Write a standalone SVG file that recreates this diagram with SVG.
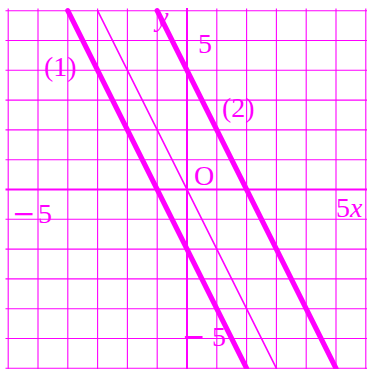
<svg xmlns="http://www.w3.org/2000/svg" width="367" height="369" viewBox="0 0 367 369">
<style>
.grid line{stroke:#FF00FF;stroke-width:1.1}
.axis{stroke:#FF00FF;stroke-width:2}
.thick{stroke:#FF00FF;stroke-width:5.2;stroke-linecap:round;fill:none}
.thin{stroke:#FF00FF;stroke-width:1.6;stroke-linecap:round;fill:none}
text{font-family:"Liberation Serif","DejaVu Serif",serif;font-size:28px;fill:#FF00FF}
.it{font-style:italic}
.minus{font-family:"DejaVu Serif",serif;font-size:28px;font-weight:300}
</style>
<rect width="367" height="369" fill="#FFFFFF"/>
<g id="grid" class="grid">
<line x1="8.2" y1="8.5" x2="8.2" y2="369"/>
<line x1="38" y1="8.5" x2="38" y2="369"/>
<line x1="67.8" y1="8.5" x2="67.8" y2="369"/>
<line x1="97.6" y1="8.5" x2="97.6" y2="369"/>
<line x1="127.4" y1="8.5" x2="127.4" y2="369"/>
<line x1="157.2" y1="8.5" x2="157.2" y2="369"/>
<line x1="216.8" y1="8.5" x2="216.8" y2="369"/>
<line x1="246.6" y1="8.5" x2="246.6" y2="369"/>
<line x1="276.4" y1="8.5" x2="276.4" y2="369"/>
<line x1="306.2" y1="8.5" x2="306.2" y2="369"/>
<line x1="336" y1="8.5" x2="336" y2="369"/>
<line x1="365.8" y1="8.5" x2="365.8" y2="369"/>
<line x1="5.5" y1="10.7" x2="367" y2="10.7"/>
<line x1="5.5" y1="40.5" x2="367" y2="40.5"/>
<line x1="5.5" y1="70.3" x2="367" y2="70.3"/>
<line x1="5.5" y1="100.1" x2="367" y2="100.1"/>
<line x1="5.5" y1="129.9" x2="367" y2="129.9"/>
<line x1="5.5" y1="159.7" x2="367" y2="159.7"/>
<line x1="5.5" y1="219.3" x2="367" y2="219.3"/>
<line x1="5.5" y1="249.1" x2="367" y2="249.1"/>
<line x1="5.5" y1="278.9" x2="367" y2="278.9"/>
<line x1="5.5" y1="308.7" x2="367" y2="308.7"/>
<line x1="5.5" y1="338.5" x2="367" y2="338.5"/>
<line x1="5.5" y1="368.3" x2="367" y2="368.3"/>
</g>
<g id="axes">
<line class="axis" x1="5.5" y1="189.5" x2="367" y2="189.5"/>
<line class="axis" x1="187" y1="8" x2="187" y2="369"/>
</g>
<g id="graphs">
<line id="line1" class="thick" x1="67.8" y1="10.7" x2="246.6" y2="368.3"/>
<line id="line0" class="thin" x1="97.6" y1="10.7" x2="276.4" y2="368.3"/>
<line id="line2" class="thick" x1="157.2" y1="10.7" x2="336" y2="368.3"/>
</g>
<g id="labels">
<text class="it" x="156" y="26">y</text>
<text x="198" y="53">5</text>
<text x="44" y="76">(1)</text>
<text x="222" y="116.5">(2)</text>
<text x="194" y="185">O</text>
<text x="12" y="223"><tspan class="minus">−</tspan><tspan x="38">5</tspan></text>
<text x="336" y="216.5">5<tspan class="it">x</tspan></text>
<text x="182" y="345.5"><tspan class="minus">−</tspan><tspan x="212">5</tspan></text>
</g>
</svg>
